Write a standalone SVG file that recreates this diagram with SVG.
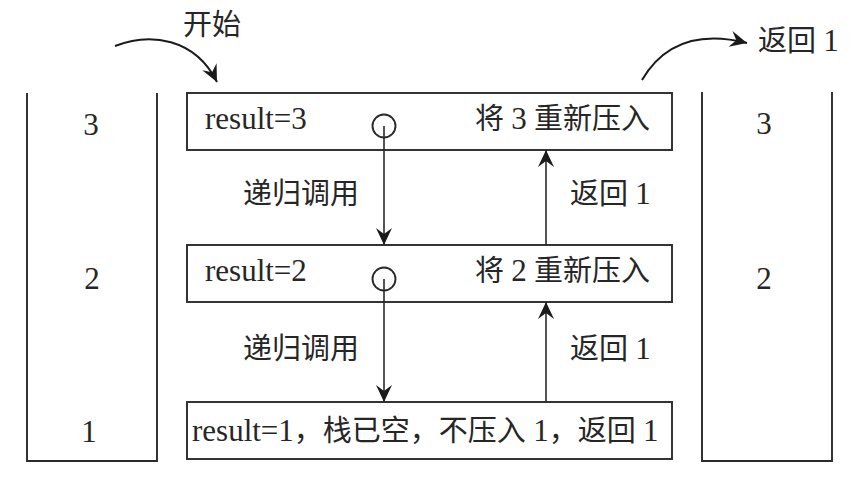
<svg xmlns="http://www.w3.org/2000/svg" width="858" height="481" viewBox="0 0 858 481">
  <style>
    .frame { fill: none; stroke: #2a2a2a; stroke-width: 1.9; }
    .box { fill: #ffffff; stroke: #2a2a2a; stroke-width: 1.9; }
    .link { fill: none; stroke: #2a2a2a; stroke-width: 1.6; marker-end: url(#ah); }
    .curve { fill: none; stroke: #1a1a1a; stroke-width: 2; marker-end: url(#ah); }
    text { font-family: "Liberation Serif", "Noto Sans CJK SC", serif; font-size: 29px; fill: #262626; }
    .lat { font-size: 31px; }
    .num { text-anchor: middle; font-size: 31px; }
  </style>
  <defs>
    <marker id="ah" viewBox="-18 -9 19 18" refX="0" refY="0" markerWidth="19" markerHeight="18" markerUnits="userSpaceOnUse" orient="auto">
      <path d="M0,0 L-17,-8 L-11,0 L-17,8 Z" fill="#1a1a1a"/>
    </marker>
  </defs>

  <rect width="858" height="481" fill="#ffffff"/>

  <!-- stack before the calls -->
  <g id="stack-left">
    <path class="frame" d="M27,93 V461 H157 V93"/>
    <text class="num" x="91" y="135">3</text>
    <text class="num" x="92" y="289">2</text>
    <text class="num" x="89" y="442">1</text>
  </g>

  <!-- stack after the calls -->
  <g id="stack-right">
    <path class="frame" d="M702,92 V461 H832 V92"/>
    <text class="num" x="764" y="134">3</text>
    <text class="num" x="764" y="289">2</text>
  </g>

  <!-- recursion frames -->
  <g id="frame-3">
    <rect class="box" x="187" y="93" width="485" height="57"/>
    <text class="lat" x="205" y="129">result=3</text>
    <circle class="frame" cx="384" cy="126" r="11.5"/>
    <text x="650" y="129" text-anchor="end">将 <tspan class="lat">3</tspan> 重新压入</text>
  </g>

  <g id="frame-2">
    <rect class="box" x="187" y="245" width="485" height="57"/>
    <text class="lat" x="205" y="281">result=2</text>
    <circle class="frame" cx="384" cy="279" r="11.5"/>
    <text x="650" y="281" text-anchor="end">将 <tspan class="lat">2</tspan> 重新压入</text>
  </g>

  <g id="frame-1">
    <rect class="box" x="187" y="402" width="485" height="57"/>
    <text x="192" y="441"><tspan class="lat">result=1</tspan>，栈已空，不压入 <tspan class="lat">1</tspan>，返回 <tspan class="lat">1</tspan></text>
  </g>

  <g id="start-label">
    <text x="183" y="35">开始</text>
  </g>
  <g id="return-label">
    <text x="758" y="51">返回 <tspan class="lat">1</tspan></text>
  </g>

  <!-- connectors -->
  <g id="connectors">
    <path class="curve" d="M115,46 C150,32 195,38 217,82"/>
    <path class="curve" d="M642,80 C662,46 695,30 747,43"/>
    <path class="link" d="M384,126 V245"/>
    <path class="link" d="M384,279 V402"/>
    <path class="link" d="M546,245 V150"/>
    <path class="link" d="M546,402 V302"/>
    <text x="243" y="204">递归调用</text>
    <text x="570" y="204">返回 <tspan class="lat">1</tspan></text>
    <text x="243" y="359">递归调用</text>
    <text x="570" y="359">返回 <tspan class="lat">1</tspan></text>
  </g>
</svg>
